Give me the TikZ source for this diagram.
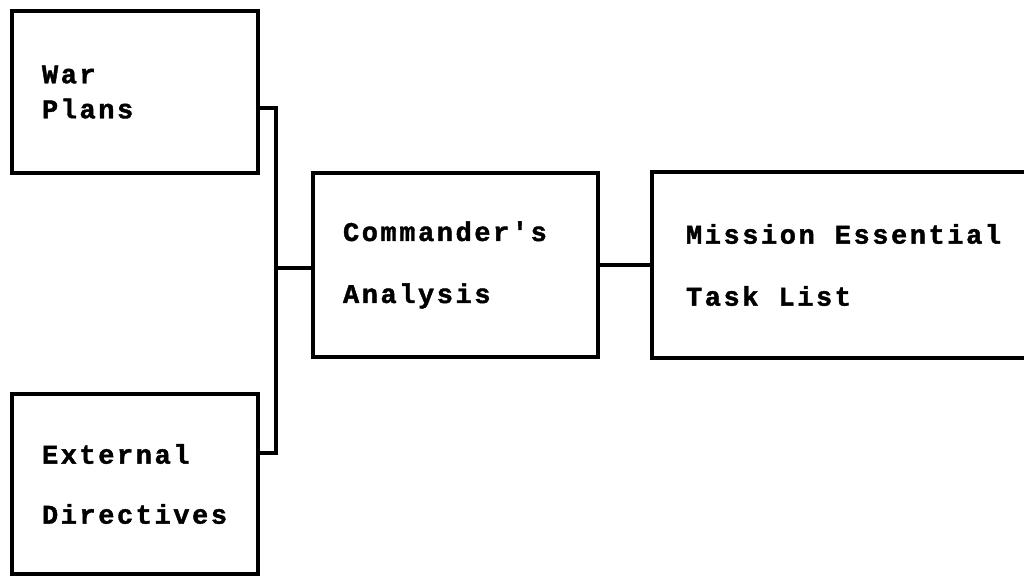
\documentclass[tikz,border=0pt]{standalone}
\usepackage{fontspec}
\newfontfamily\tw{Liberation Mono}[LetterSpace=9.5, BoldFeatures={FakeBold=1.5}]
\newcommand\wsp{\hspace*{20pt}}
\begin{document}
\begin{tikzpicture}[x=1pt,y=-1pt,
  box/.style={draw=black, line width=3.5pt, rectangle, inner xsep=30pt, inner ysep=0pt,
    align=left, font=\tw\bfseries\fontsize{27}{35}\selectfont, anchor=center},
  link/.style={draw=black, line width=3.2pt}]
\useasboundingbox (0,0) rectangle (1024,576);
\fill[white] (0,0) rectangle (1024,576);
\node[box, minimum width=246pt, minimum height=162pt, text width=186pt] (war) at (135,92) {War\\Plans};
\node[box, minimum width=246pt, minimum height=180pt, text width=186pt] (ext) at (135,484) {External\\[25pt]Directives};
\node[box, minimum width=285pt, minimum height=184pt, text width=225pt] (cmd) at (455.5,265) {Commander's\\[27pt]Analysis};
\node[box, minimum width=400pt, minimum height=186pt, text width=332pt, inner xsep=34pt] (met) at (852,265) {Mission\wsp Essential\\[27pt]Task\wsp List};
\coordinate (j1) at (276,108);
\coordinate (j2) at (276,453);
\coordinate (jm) at (276,268);
\draw[link] (war.east |- j1) -- (j1) -- (j2) -- (ext.east |- j2);
\draw[link] (jm) -- (cmd.west |- jm);
\draw[link] (cmd.east) -- (met.west);
\end{tikzpicture}
\end{document}
